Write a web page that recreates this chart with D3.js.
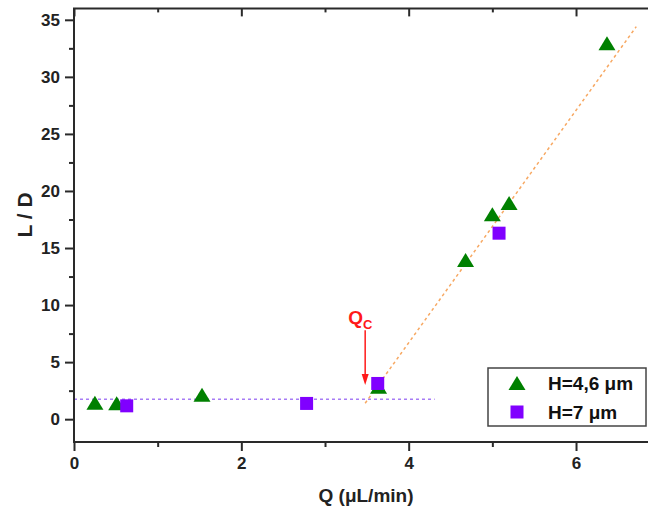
<!DOCTYPE html>
<html><head><meta charset="utf-8">
<script src="https://cdn.jsdelivr.net/npm/d3@7"></script>
<style>body{margin:0;background:#fff}svg{display:block}text{font-family:"Liberation Sans",Arial,sans-serif;font-weight:bold}</style>
</head><body>
<svg id="c" width="648" height="510"></svg>
<script>
// Data
const triX = [0.25, 0.51, 1.53, 3.64, 4.68, 5.00, 5.20, 6.37];
const triY = [1.45, 1.40, 2.15, 2.85, 13.95, 17.95, 18.95, 32.95];
const sqX = [0.63, 2.78, 3.63, 5.08];
const sqY = [1.17, 1.38, 3.13, 16.3];
const flatLineX = [0, 4.31], flatLineY = [1.75, 1.75];
const fitLineX = [3.48, 6.72], fitLineY = [1.4, 34.4];
const arrowX = [3.48, 3.48], arrowY = [7.8, 3.0];
const yTicks = [0, 5, 10, 15, 20, 25, 30, 35];
const yMinor = [2.5, 7.5, 12.5, 17.5, 22.5, 27.5, 32.5];
const xTicks = [0, 2, 4, 6];
const xMinor = [1, 3, 5, 7];
const legendLabels = ["H=4,6 μm", "H=7 μm"];

const svg = d3.select("#c");
const x = d3.scaleLinear().domain([0, 7]).range([74, 74 + 7 * 83.67]);
const y = d3.scaleLinear().domain([-2, 36]).range([442, 8.4]);
const axisColor = "#2a2a2a";

// Lines
const line = d3.line().x(d => x(d[0])).y(d => y(d[1]));
svg.append("path").datum(flatLineX.map((v, i) => [v, flatLineY[i]]))
  .attr("d", line).attr("stroke", "#a77cf5").attr("stroke-width", 1.5)
  .attr("stroke-dasharray", "3,3").attr("fill", "none");
svg.append("path").datum(fitLineX.map((v, i) => [v, fitLineY[i]]))
  .attr("d", line).attr("stroke", "#f7a862").attr("stroke-width", 1.5)
  .attr("stroke-dasharray", "3,3").attr("fill", "none");

// Axes
function styleAxis(g) {
  g.selectAll(".domain").remove();
  g.selectAll("line").attr("stroke", axisColor).attr("stroke-width", 2);
  g.selectAll("text").attr("font-size", 17).attr("fill", "#222");
}
const x0 = x.range()[0], x1 = 700, yb = y.range()[0], yt = y.range()[1];
svg.append("g").attr("transform", `translate(${x0},0)`)
  .call(d3.axisLeft(y).tickValues(yTicks).tickSize(9).tickPadding(5).tickFormat(d3.format("d")))
  .call(styleAxis);
svg.append("g").attr("transform", `translate(${x0},0)`)
  .call(d3.axisLeft(y).tickValues(yMinor).tickSize(5).tickFormat(""))
  .call(styleAxis);
svg.append("g").attr("transform", `translate(0,${yb})`)
  .call(d3.axisBottom(x).tickValues(xTicks).tickSize(9).tickPadding(6).tickFormat(d3.format("d")))
  .call(styleAxis);
svg.append("g").attr("transform", `translate(0,${yb})`)
  .call(d3.axisBottom(x).tickValues(xMinor).tickSize(5).tickFormat(""))
  .call(styleAxis);
svg.append("g").attr("transform", `translate(0,${yt})`)
  .call(d3.axisBottom(x).tickValues(xTicks).tickSize(8).tickFormat(""))
  .call(styleAxis);
svg.append("g").attr("transform", `translate(0,${yt})`)
  .call(d3.axisBottom(x).tickValues(xMinor).tickSize(4).tickFormat(""))
  .call(styleAxis);
// frame lines
svg.append("line").attr("x1", x0).attr("x2", x0).attr("y1", yt).attr("y2", yb + 1)
  .attr("stroke", axisColor).attr("stroke-width", 2);
svg.append("line").attr("x1", x0 - 1).attr("x2", x1).attr("y1", yb).attr("y2", yb)
  .attr("stroke", axisColor).attr("stroke-width", 2);
svg.append("line").attr("x1", x0 - 1).attr("x2", x1).attr("y1", yt).attr("y2", yt)
  .attr("stroke", axisColor).attr("stroke-width", 2);

// Axis titles
svg.append("text").attr("x", 366).attr("y", 502).attr("text-anchor", "middle")
  .attr("font-size", 19).attr("fill", "#222").text("Q (μL/min)");
svg.append("text").attr("transform", "translate(32,215) rotate(-90)").attr("text-anchor", "middle")
  .attr("font-size", 21).attr("fill", "#222").text("L / D");

// Markers
const triPath = (cx, cy, w, h) => `M${cx - w / 2},${cy + h / 2}L${cx + w / 2},${cy + h / 2}L${cx},${cy - h / 2}Z`;
svg.append("g").selectAll("path").data(triX.map((v, i) => [v, triY[i]])).join("path")
  .attr("d", d => triPath(x(d[0]), y(d[1]), 17, 14))
  .attr("fill", "#008000");
const sq = 13;
svg.append("g").selectAll("rect").data(sqX.map((v, i) => [v, sqY[i]])).join("rect")
  .attr("x", d => x(d[0]) - sq / 2).attr("y", d => y(d[1]) - sq / 2)
  .attr("width", sq).attr("height", sq).attr("fill", "#8000ff");

// Arrow Qc
const ax = x(arrowX[0]), ay1 = y(arrowY[0]), ay2 = y(arrowY[1]);
svg.append("line").attr("x1", ax).attr("x2", ax).attr("y1", ay1).attr("y2", ay2 - 8)
  .attr("stroke", "#ff1a1a").attr("stroke-width", 1.5);
svg.append("path").attr("d", `M${ax - 3.5},${ay2 - 11}L${ax + 3.5},${ay2 - 11}L${ax},${ay2}Z`)
  .attr("fill", "#ff1a1a");
const qt = svg.append("text").attr("x", ax - 17).attr("y", ay1 - 6).attr("fill", "#ff1a1a").attr("font-size", 19);
qt.append("tspan").text("Q");
qt.append("tspan").attr("font-size", 13).attr("dy", 5).text("C");

// Legend
svg.append("rect").attr("x", 488).attr("y", 368).attr("width", 158).attr("height", 58)
  .attr("fill", "#fff").attr("stroke", "#444").attr("stroke-width", 1.5);
svg.append("path").attr("d", triPath(517, 383, 17, 14)).attr("fill", "#008000");
svg.append("rect").attr("x", 517 - sq / 2).attr("y", 412 - sq / 2).attr("width", sq).attr("height", sq).attr("fill", "#8000ff");
svg.append("g").selectAll("text").data(legendLabels).join("text")
  .attr("x", 548).attr("y", (d, i) => 390 + i * 29).attr("font-size", 19).attr("fill", "#111")
  .text(d => d);
</script>
</body></html>
